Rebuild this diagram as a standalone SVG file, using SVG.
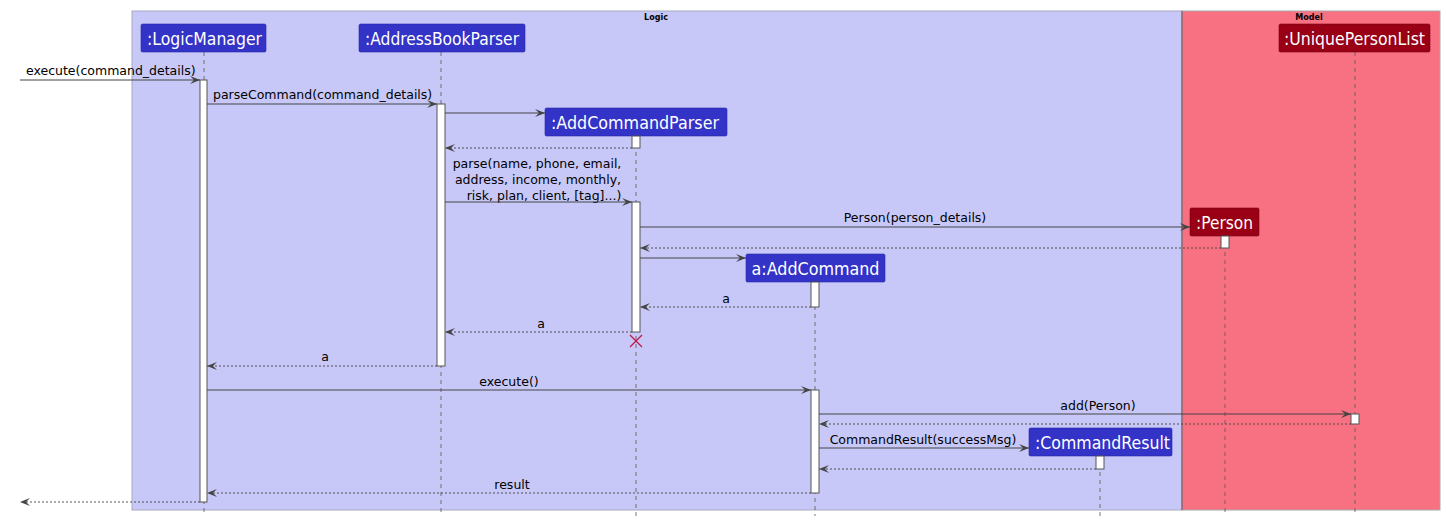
<svg xmlns="http://www.w3.org/2000/svg" width="1447" height="521" viewBox="0 0 1447 521">
<style>
.lbl{font-family:"DejaVu Sans",Verdana,sans-serif;font-size:12.5px;fill:#000}
.pt{font-family:"DejaVu Sans",Verdana,sans-serif;font-size:17.5px;fill:#fff}
.grp{font-family:"DejaVu Sans",Verdana,sans-serif;font-size:8px;font-weight:bold;fill:#000}
.life{stroke:#555;stroke-width:0.8;stroke-dasharray:4 4;fill:none}
.msg{stroke:#444;stroke-width:1;fill:none;marker-end:url(#ah)}
.ret{stroke:#444;stroke-width:0.9;stroke-dasharray:2 2;fill:none;marker-end:url(#ah)}
.act{fill:#fff;stroke:#555;stroke-width:1}
.blue{fill:#3333C8;stroke:#2A2AA8;stroke-width:0.6}
.red{fill:#990016;stroke:#7A0010;stroke-width:0.6}
</style>
<defs>
<marker id="ah" viewBox="0 0 10 8" refX="10" refY="4" markerWidth="10" markerHeight="8" markerUnits="userSpaceOnUse" orient="auto">
<path d="M0,0 L10,4 L0,8 L4,4 Z" fill="#444"/>
</marker>
</defs>
<rect width="1447" height="521" fill="#fff"/>
<g id="box-logic">
<rect x="132" y="11" width="1050" height="499" fill="#C8C8F8" stroke="#A8A8C0" stroke-width="1"/>
<text class="grp" x="656" y="20" text-anchor="middle">Logic</text>
</g>
<g id="box-model">
<rect x="1182" y="11" width="258" height="499" fill="#F87182" stroke="#A8A8A8" stroke-width="1"/>
<line x1="1182" y1="11" x2="1182" y2="510" stroke="#7a4a50" stroke-width="1"/>
<text class="grp" x="1309" y="20" text-anchor="middle">Model</text>
</g>
<g id="lifelines">
<line class="life" x1="204" y1="52" x2="204" y2="516"/>
<line class="life" x1="441" y1="52" x2="441" y2="516"/>
<line class="life" x1="636" y1="136" x2="636" y2="516"/>
<line class="life" x1="815" y1="282" x2="815" y2="516"/>
<line class="life" x1="1100" y1="456" x2="1100" y2="516"/>
<line class="life" x1="1225" y1="236" x2="1225" y2="516"/>
<line class="life" x1="1355" y1="52" x2="1355" y2="516"/>
</g>
<g id="LogicManager">
<rect class="blue" x="141" y="24" width="125" height="28" rx="1.5"/>
<text class="pt" x="147" y="44.5" textLength="115" lengthAdjust="spacingAndGlyphs">:LogicManager</text>
</g>
<g id="AddressBookParser">
<rect class="blue" x="359" y="24" width="166" height="28" rx="1.5"/>
<text class="pt" x="365" y="44.5" textLength="154" lengthAdjust="spacingAndGlyphs">:AddressBookParser</text>
</g>
<g id="AddCommandParser">
<rect class="blue" x="545" y="108" width="182" height="28" rx="1.5"/>
<text class="pt" x="551" y="128.5" textLength="168" lengthAdjust="spacingAndGlyphs">:AddCommandParser</text>
</g>
<g id="AddCommand">
<rect class="blue" x="746" y="254" width="139" height="28" rx="1.5"/>
<text class="pt" x="751.5" y="274.5" textLength="128" lengthAdjust="spacingAndGlyphs">a:AddCommand</text>
</g>
<g id="CommandResult">
<rect class="blue" x="1029" y="428" width="143" height="28" rx="1.5"/>
<text class="pt" x="1035" y="448.5" textLength="135" lengthAdjust="spacingAndGlyphs">:CommandResult</text>
</g>
<g id="Person">
<rect class="red" x="1190" y="208" width="69" height="28" rx="1.5"/>
<text class="pt" x="1196" y="228.5" textLength="57" lengthAdjust="spacingAndGlyphs">:Person</text>
</g>
<g id="UniquePersonList">
<rect class="red" x="1279" y="24" width="151" height="28" rx="1.5"/>
<text class="pt" x="1284" y="44.5" textLength="141" lengthAdjust="spacingAndGlyphs">:UniquePersonList</text>
</g>
<g id="activations">
<rect class="act" x="200" y="80" width="7" height="422"/>
<rect class="act" x="437" y="104" width="8" height="262"/>
<rect class="act" x="632" y="136" width="8" height="12"/>
<rect class="act" x="632" y="202" width="8" height="130"/>
<rect class="act" x="1221" y="236" width="8" height="12"/>
<rect class="act" x="811" y="282" width="8" height="25"/>
<rect class="act" x="811" y="390" width="8" height="103"/>
<rect class="act" x="1351" y="414" width="8" height="10"/>
<rect class="act" x="1096" y="456" width="8" height="13"/>
</g>
<g id="connectors">
<line class="msg" x1="20" y1="80" x2="200" y2="80"/>
<text class="lbl" x="26" y="75">execute(command_details)</text>
<line class="msg" x1="207" y1="104" x2="437" y2="104"/>
<text class="lbl" x="213" y="99">parseCommand(command_details)</text>
<line class="msg" x1="445" y1="113" x2="545" y2="113"/>
<line class="ret" x1="632" y1="148" x2="445" y2="148"/>
<text class="lbl" x="537" y="168" text-anchor="middle">parse(name, phone, email,</text>
<text class="lbl" x="538" y="184" text-anchor="middle">address, income, monthly,</text>
<text class="lbl" x="544" y="200" text-anchor="middle">risk, plan, client, [tag]...)</text>
<line class="msg" x1="445" y1="202" x2="632" y2="202"/>
<line class="msg" x1="640" y1="227" x2="1190" y2="227"/>
<text class="lbl" x="915" y="222" text-anchor="middle">Person(person_details)</text>
<line class="ret" x1="1221" y1="248" x2="640" y2="248"/>
<line class="msg" x1="640" y1="258" x2="746" y2="258"/>
<line class="ret" x1="811" y1="307" x2="640" y2="307"/>
<text class="lbl" x="726" y="303" text-anchor="middle">a</text>
<line class="ret" x1="632" y1="332" x2="445" y2="332"/>
<text class="lbl" x="541" y="328" text-anchor="middle">a</text>
<path d="M630,335 L642,347 M642,335 L630,347" stroke="#C0174A" stroke-width="1.3" fill="none"/>
<line class="ret" x1="437" y1="366" x2="207" y2="366"/>
<text class="lbl" x="325" y="361" text-anchor="middle">a</text>
<line class="msg" x1="207" y1="390" x2="811" y2="390"/>
<text class="lbl" x="509" y="386" text-anchor="middle">execute()</text>
<line class="msg" x1="819" y1="414" x2="1351" y2="414"/>
<text class="lbl" x="1098" y="410" text-anchor="middle">add(Person)</text>
<line class="ret" x1="1351" y1="424" x2="819" y2="424"/>
<line class="msg" x1="819" y1="448" x2="1029" y2="448"/>
<text class="lbl" x="923" y="444" text-anchor="middle">CommandResult(successMsg)</text>
<line class="ret" x1="1096" y1="469" x2="819" y2="469"/>
<line class="ret" x1="811" y1="493" x2="207" y2="493"/>
<text class="lbl" x="512" y="489" text-anchor="middle">result</text>
<line class="ret" x1="200" y1="502" x2="20" y2="502"/>
</g>
</svg>
